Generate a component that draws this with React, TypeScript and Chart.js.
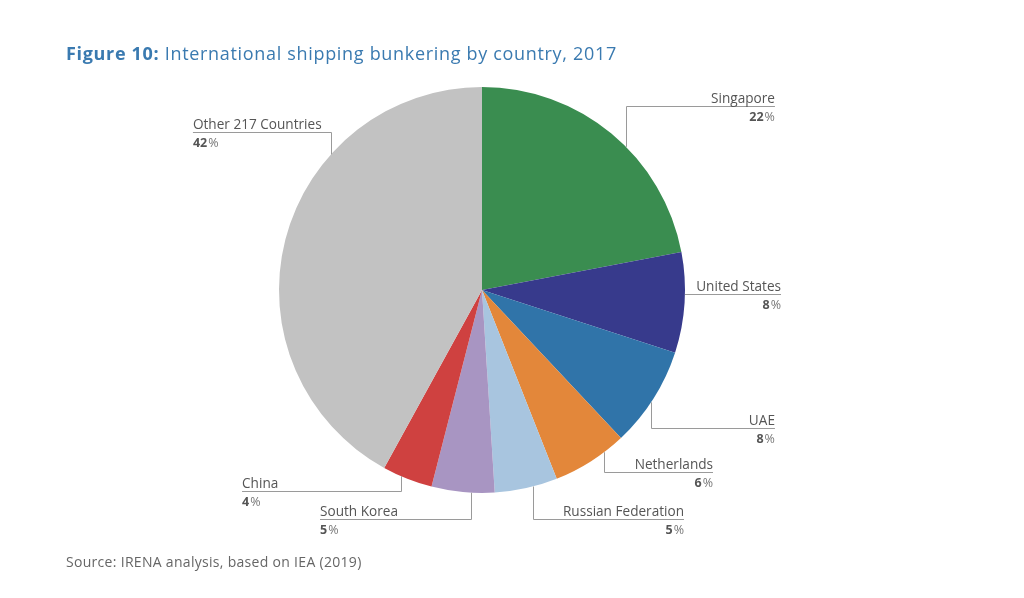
import React, { useEffect, useRef } from "react";
import { Chart, registerables } from "chart.js";

Chart.register(...registerables);

const countries = ["Singapore", "United States", "UAE", "Netherlands", "Russian Federation", "South Korea", "China", "Other 217 Countries"];
const shares = [22, 8, 8, 6, 5, 5, 4, 42];
const percentLabels = ["22", "8", "8", "6", "5", "5", "4", "42"];
const sliceColors = ["#3a8d50", "#373a8c", "#3074a9", "#e3873a", "#a8c5df", "#a895c2", "#cf4140", "#c2c2c2"];

// leader layout, in units of the pie radius relative to its centre
const leaderLayout = [
  { anchorDx: 0.709, lineDy: -0.906, endDx: 1.443 },
  { anchorDx: null, lineDy: 0.018, endDx: 1.473 },
  { anchorDx: 0.833, lineDy: 0.68, endDx: 1.443 },
  { anchorDx: 0.601, lineDy: 0.897, endDx: 1.138 },
  { anchorDx: 0.251, lineDy: 1.128, endDx: 0.995 },
  { anchorDx: -0.054, lineDy: 1.128, endDx: -0.798 },
  { anchorDx: -0.399, lineDy: 0.99, endDx: -1.182 },
  { anchorDx: -0.744, lineDy: -0.778, endDx: -1.424 },
];

const FONT = "'Open Sans', sans-serif";

const leaderPlugin = {
  id: "leaders",
  afterDraw(chart: any) {
    const meta = chart.getDatasetMeta(0);
    const arc = meta.data[0];
    if (!arc) return;
    const cx = arc.x;
    const cy = arc.y;
    const r = arc.outerRadius;
    const ctx = chart.ctx;
    ctx.save();
    leaderLayout.forEach((l, i) => {
      const lineY = Math.round(cy + l.lineDy * r) + 0.5;
      let ax: number;
      let ay: number;
      if (l.anchorDx === null) {
        const dy = (lineY - cy) / r;
        ax = cx + r * Math.sqrt(Math.max(0, 1 - dy * dy));
        ay = lineY;
      } else {
        ax = Math.round(cx + l.anchorDx * r) + 0.5;
        const s = Math.sqrt(Math.max(0, 1 - l.anchorDx * l.anchorDx));
        ay = cy + (l.lineDy < 0 ? -1 : 1) * r * s;
      }
      const endX = cx + l.endDx * r;
      ctx.strokeStyle = "#9a9a9a";
      ctx.lineWidth = 1;
      ctx.beginPath();
      ctx.moveTo(ax, ay);
      ctx.lineTo(ax, lineY);
      ctx.lineTo(endX, lineY);
      ctx.stroke();

      const right = l.endDx > 0;
      ctx.textBaseline = "alphabetic";
      ctx.font = `13.6px ${FONT}`;
      ctx.fillStyle = "#555555";
      ctx.textAlign = right ? "right" : "left";
      ctx.fillText(countries[i], endX, lineY - 4);

      // percentage: bold number + regular %
      const num = percentLabels[i];
      ctx.font = `bold 12.5px ${FONT}`;
      const numW = ctx.measureText(num).width;
      ctx.font = `12.5px ${FONT}`;
      const pctW = ctx.measureText("%").width;
      const startX = right ? endX - numW - pctW - 1 : endX;
      ctx.textAlign = "left";
      ctx.font = `bold 12.5px ${FONT}`;
      ctx.fillStyle = "#555555";
      ctx.fillText(num, startX, lineY + 14);
      ctx.font = `12.5px ${FONT}`;
      ctx.fillStyle = "#777777";
      ctx.fillText("%", startX + numW + 1, lineY + 14);
    });
    ctx.restore();
  },
};

export default function App() {
  const ref = useRef<HTMLCanvasElement>(null);
  useEffect(() => {
    if (!ref.current) return;
    const chart = new Chart(ref.current, {
      type: "pie",
      data: {
        labels: countries,
        datasets: [
          {
            data: shares,
            backgroundColor: sliceColors,
            borderWidth: 0,
          },
        ],
      },
      options: {
        animation: false,
        responsive: true,
        maintainAspectRatio: false,
        layout: { padding: { left: 279, right: 339, top: 87, bottom: 105 } },
        plugins: {
          legend: { display: false },
          tooltip: { enabled: false },
        },
      },
      plugins: [leaderPlugin],
    });
    return () => chart.destroy();
  }, []);

  return (
    <div style={{ position: "absolute", left: 0, top: 0, width: 1024, height: 598, background: "#ffffff", fontFamily: FONT }}>
      <canvas ref={ref} />
      <div style={{ position: "absolute", left: 66, top: 41, fontSize: 18, letterSpacing: "0.68px", color: "#3a7ab0", whiteSpace: "nowrap", lineHeight: "24px" }}>
        <span style={{ fontWeight: 700 }}>Figure 10:</span> International shipping bunkering by country, 2017
      </div>
      <div style={{ position: "absolute", left: 66, top: 553, fontSize: 14, letterSpacing: "0.3px", color: "#666666", whiteSpace: "nowrap", lineHeight: "18px" }}>
        Source: IRENA analysis, based on IEA (2019)
      </div>
    </div>
  );
}
